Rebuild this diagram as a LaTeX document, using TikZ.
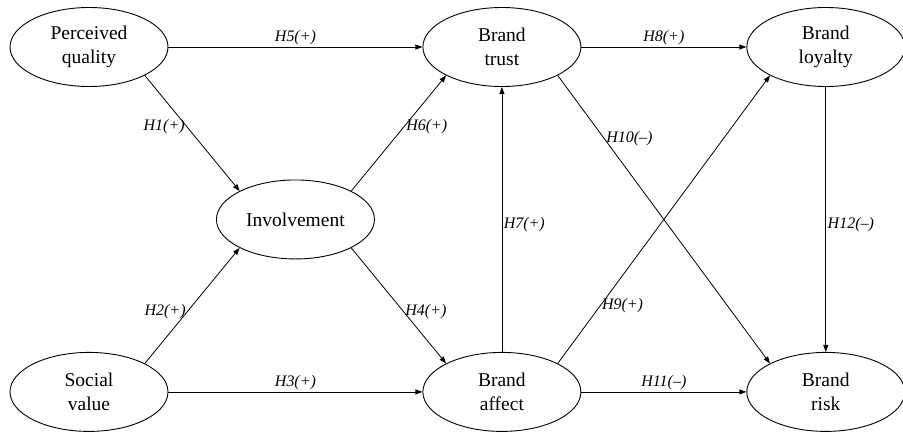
\documentclass[tikz,border=0pt]{standalone}
\usepackage{fontspec}
\setmainfont{Liberation Serif}
\usetikzlibrary{positioning, arrows.meta, calc, shapes.geometric}
\tikzset{
  konstrukt/.style = {ellipse, draw=black, line width=0.9pt, align=center,
                      minimum width=158pt, minimum height=79pt, inner sep=0pt,
                      font=\fontsize{19.5}{23.5}\selectfont},
  hipoteza/.style  = {font=\fontsize{16}{18}\selectfont\itshape, inner sep=1.5pt},
  veza/.style      = {-{Triangle[length=7pt, width=5pt]}, line width=0.8pt},
}

\begin{document}
\begin{tikzpicture}[x=1pt, y=1pt]
  \useasboundingbox (0,0) rectangle (903,-432);

  \node[konstrukt] at (89,-47)           (kval)   {Perceived\\quality};
  \node[konstrukt, right=254pt of kval]  (pover)  {Brand\\trust};
  \node[konstrukt, right=165pt of pover] (lojal)  {Brand\\loyalty};
  \node[konstrukt, below=265pt of kval]  (drust)  {Social\\value};
  \node[konstrukt, below=265pt of pover] (afekt)  {Brand\\affect};
  \node[konstrukt, below=265pt of lojal] (rizik)  {Brand\\risk};
  \node[konstrukt] at ($(kval)!0.5!(afekt)$) (ukljuc) {Involvement};

  \draw[veza] (kval.-27)  -- node[hipoteza, pos=0.44, left]  {H1(+)}  (ukljuc.153);
  \draw[veza] (drust.27)  -- node[hipoteza, pos=0.45, left]  {H2(+)}  (ukljuc.-153);
  \draw[veza] (drust)     -- node[hipoteza, above]           {H3(+)}  (afekt);
  \draw[veza] (ukljuc.-27)-- node[hipoteza, pos=0.55, right] {H4(+)}  (afekt.153);
  \draw[veza] (kval)      -- node[hipoteza, above]           {H5(+)}  (pover);
  \draw[veza] (ukljuc.27) -- node[hipoteza, pos=0.56, right] {H6(+)}  (pover.-153);
  \draw[veza] (afekt)     -- node[hipoteza, pos=0.48, right] {H7(+)}  (pover);
  \draw[veza] (pover)     -- node[hipoteza, above]           {H8(+)}  (lojal);
  \draw[veza] (afekt.27)  -- node[hipoteza, pos=0.2, right]  {H9(+)}  (lojal.-153);
  \draw[veza] (pover.-27) -- node[hipoteza, pos=0.22, right] {H10(--)} (rizik.153);
  \draw[veza] (afekt)     -- node[hipoteza, above]           {H11(--)} (rizik);
  \draw[veza] (lojal)     -- node[hipoteza, pos=0.52, right] {H12(--)} (rizik);
\end{tikzpicture}
\end{document}
